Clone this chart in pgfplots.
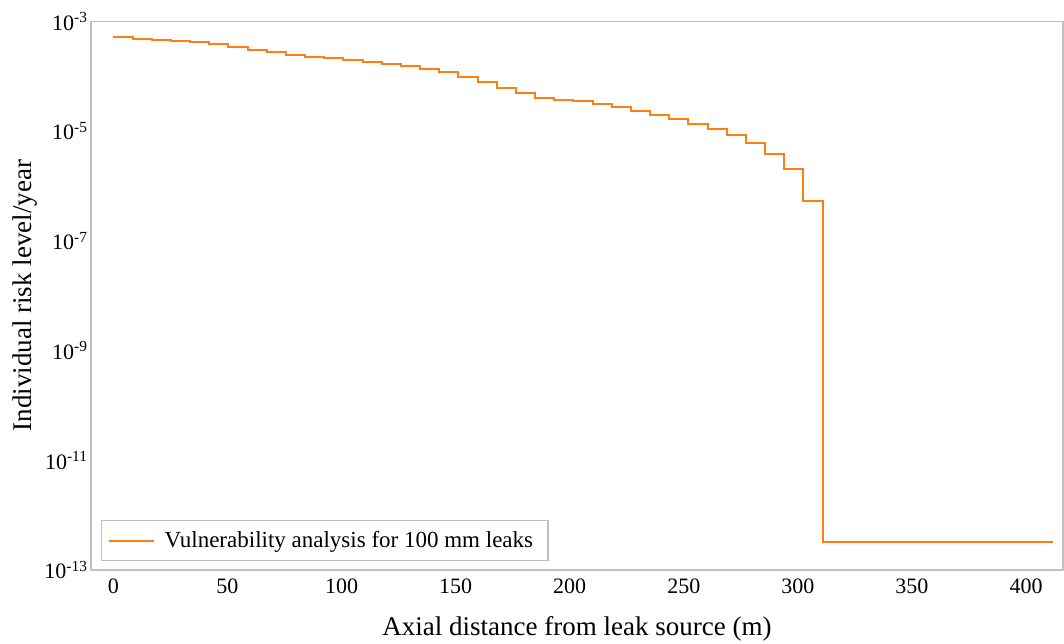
\documentclass[border=0pt]{standalone}
\usepackage{pgfplots}
\pgfplotsset{compat=1.18}
\usepackage{fontspec}
\setmainfont{Liberation Serif}
\definecolor{lineorange}{RGB}{255,127,14}
\definecolor{framegray}{RGB}{192,192,192}
\pgfplotstableread{
x y
0 5.28e-4
8.4 4.85e-4
16.8 4.66e-4
25.2 4.46e-4
33.6 4.18e-4
42 3.84e-4
50.4 3.47e-4
58.8 3.06e-4
67.2 2.74e-4
75.6 2.48e-4
84 2.25e-4
92.4 2.13e-4
100.8 1.99e-4
109.2 1.85e-4
117.6 1.70e-4
126 1.55e-4
134.4 1.38e-4
142.8 1.22e-4
151.2 9.86e-5
159.6 7.98e-5
168 6.21e-5
176.4 4.91e-5
184.8 4.08e-5
193.2 3.75e-5
201.6 3.56e-5
210 3.17e-5
218.4 2.80e-5
226.8 2.33e-5
235.2 1.97e-5
243.6 1.69e-5
252 1.37e-5
260.4 1.10e-5
268.8 8.53e-6
277.2 6.10e-6
285.6 3.89e-6
294 2.02e-6
302.4 5.33e-7
310.8 3.2e-13
319.2 3.2e-13
327.6 3.2e-13
336 3.2e-13
344.4 3.2e-13
352.8 3.2e-13
361.2 3.2e-13
369.6 3.2e-13
378 3.2e-13
386.4 3.2e-13
394.8 3.2e-13
403.2 3.2e-13
411.6 3.2e-13
}\risk
\begin{document}
\begin{tikzpicture}
\begin{axis}[
  scale only axis,
  width=972pt, height=548.5pt,
  ymode=log,
  xmin=-9.8, xmax=416.2,
  ymin=1e-13, ymax=1e-3,
  axis line style={framegray, line width=1.3pt},
  major tick length=0pt, minor tick length=0pt,
  xtick={0,50,100,150,200,250,300,350,400},
  xticklabels={0,50,100,150,200,250,300,350,400},
  ytick={1e-13,1e-11,1e-9,1e-7,1e-5,1e-3},
  yticklabels={10\textsuperscript{-13},10\textsuperscript{-11},10\textsuperscript{-9},10\textsuperscript{-7},10\textsuperscript{-5},10\textsuperscript{-3}},
  ticklabel style={font=\fontsize{22}{26}\selectfont},
  xticklabel style={yshift=-5pt},
  xlabel={Axial distance from leak source (m)},
  ylabel={Individual risk level/year},
  label style={font=\fontsize{27}{32}\selectfont},
  xlabel style={yshift=-16pt},
  legend style={at={(rel axis cs:0.0103,0.0164)}, anchor=south west,
    draw=framegray, line width=1.3pt, font=\fontsize{23}{27}\selectfont,
    inner xsep=6pt, inner ysep=9pt},
  legend image code/.code={\draw[#1] (0pt,0pt) -- (45pt,0pt);},
  legend cell align=left,
]
\addplot[const plot, lineorange, line width=2pt] table[x=x,y=y]{\risk};
\addlegendentry{\hspace{8pt}Vulnerability analysis for 100 mm leaks\rule{7pt}{0pt}}
\coordinate (bl) at (rel axis cs:0,0);
\coordinate (tr) at (rel axis cs:1,1);
\end{axis}
\pgfresetboundingbox
\useasboundingbox ([shift={(-91pt,-74pt)}]bl) rectangle ([shift={(1pt,21.5pt)}]tr);
\end{tikzpicture}
\end{document}
